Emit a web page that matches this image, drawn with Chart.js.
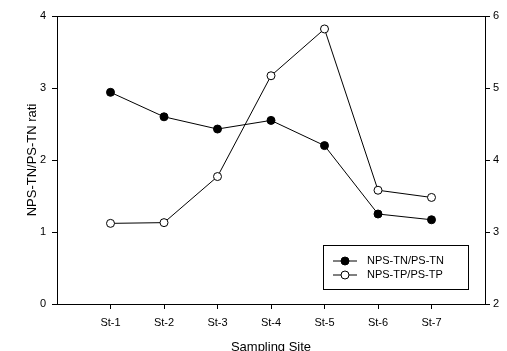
<!DOCTYPE html>
<html>
<head>
<meta charset="utf-8">
<script src="https://cdn.jsdelivr.net/npm/chart.js@4"></script>
<style>
  html, body { margin: 0; padding: 0; background: #fff; }
  #wrap { width: 507px; height: 351px; }
</style>
</head>
<body>
<div id="wrap"><canvas id="chart"></canvas></div>
<script>
const sites = ["St-1", "St-2", "St-3", "St-4", "St-5", "St-6", "St-7"];
const tnRatio = [2.94, 2.6, 2.43, 2.55, 2.2, 1.25, 1.17];
const tpRatio = [3.12, 3.13, 3.77, 5.17, 5.82, 3.58, 3.48];
const leftTicks = [0, 1, 2, 3, 4];
const rightTicks = [2, 3, 4, 5, 6];

const FONT = "'Liberation Sans', Arial, sans-serif";

// frame round the plot area
const framePlugin = {
  id: "frame",
  afterDraw(chart) {
    const { ctx, chartArea: a } = chart;
    ctx.save();
    ctx.strokeStyle = "#000";
    ctx.lineWidth = 1;
    ctx.strokeRect(a.left + 0.5, a.top + 0.5, a.right - a.left, a.bottom - a.top);
    ctx.restore();
  },
};

// boxed legend in the lower right of the plot
const boxLegend = {
  id: "boxLegend",
  afterDraw(chart) {
    const { ctx, chartArea: a } = chart;
    const x = a.right - 162, y = a.bottom - 59, w = 145, h = 44;
    ctx.save();
    ctx.fillStyle = "#fff";
    ctx.fillRect(x, y, w, h);
    ctx.strokeStyle = "#000";
    ctx.lineWidth = 1;
    ctx.strokeRect(x + 0.5, y + 0.5, w, h);
    ctx.font = "11px " + FONT;
    ctx.textBaseline = "middle";
    chart.data.datasets.forEach((ds, i) => {
      const ly = y + 16 + i * 14;
      ctx.beginPath();
      ctx.moveTo(x + 10, ly);
      ctx.lineTo(x + 34, ly);
      ctx.strokeStyle = "#000";
      ctx.stroke();
      ctx.beginPath();
      ctx.arc(x + 22, ly, 4, 0, Math.PI * 2);
      ctx.fillStyle = ds.pointBackgroundColor;
      ctx.fill();
      ctx.stroke();
      ctx.fillStyle = "#000";
      ctx.fillText(ds.label, x + 44, ly);
    });
    ctx.restore();
  },
};

new Chart(document.getElementById("chart"), {
  type: "line",
  data: {
    datasets: [
      {
        label: "NPS-TN/PS-TN",
        data: tnRatio.map((v, i) => ({ x: i + 1, y: v })),
        yAxisID: "y",
        borderColor: "#000",
        borderWidth: 1,
        pointRadius: 4,
        pointBackgroundColor: "#000",
        pointBorderColor: "#000",
        pointBorderWidth: 1,
      },
      {
        label: "NPS-TP/PS-TP",
        data: tpRatio.map((v, i) => ({ x: i + 1, y: v })),
        yAxisID: "y2",
        borderColor: "#000",
        borderWidth: 1,
        pointRadius: 4,
        pointBackgroundColor: "#fff",
        pointBorderColor: "#000",
        pointBorderWidth: 1,
      },
    ],
  },
  options: {
    responsive: true,
    maintainAspectRatio: false,
    animation: false,
    layout: { padding: { top: 16, left: 0, right: 0, bottom: 0 } },
    plugins: {
      legend: { display: false },
      tooltip: { enabled: false },
    },
    scales: {
      x: {
        type: "linear",
        min: 0,
        max: 8,
        afterBuildTicks: (s) => { s.ticks = sites.map((_, i) => ({ value: i + 1 })); },
        afterFit: (s) => { s.height = 47; },
        grid: { drawOnChartArea: false, tickLength: 5, color: "#000" },
        border: { color: "#000" },
        ticks: {
          callback: (v) => sites[v - 1],
          color: "#000",
          font: { family: FONT, size: 11 },
          padding: 7,
          maxRotation: 0,
        },
        title: {
          display: true,
          text: "Sampling Site",
          color: "#000",
          font: { family: FONT, size: 13 },
          padding: { top: 4, bottom: -4 },
        },
      },
      y: {
        position: "left",
        min: 0,
        max: 4,
        afterBuildTicks: (s) => { s.ticks = leftTicks.map((v) => ({ value: v })); },
        afterFit: (s) => { s.width = 57; },
        grid: { drawOnChartArea: false, tickLength: 5, color: "#000" },
        border: { color: "#000" },
        ticks: {
          color: "#000",
          font: { family: FONT, size: 11 },
          padding: 6,
        },
        title: {
          display: true,
          text: "NPS-TN/PS-TN rati",
          color: "#000",
          font: { family: FONT, size: 13 },
          padding: { top: 25, bottom: 0 },
        },
      },
      y2: {
        position: "right",
        min: 2,
        max: 6,
        afterBuildTicks: (s) => { s.ticks = rightTicks.map((v) => ({ value: v })); },
        afterFit: (s) => { s.width = 22; },
        grid: { drawOnChartArea: false, tickLength: 5, color: "#000" },
        border: { color: "#000" },
        ticks: {
          color: "#000",
          font: { family: FONT, size: 11 },
          padding: 3,
        },
      },
    },
  },
  plugins: [framePlugin, boxLegend],
});
</script>
</body>
</html>
